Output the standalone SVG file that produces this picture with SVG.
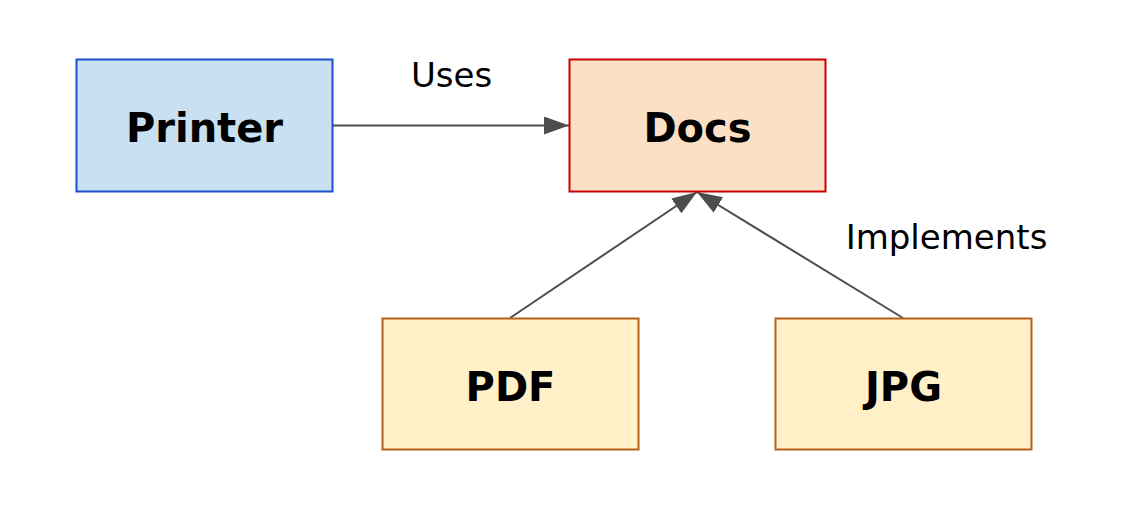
<svg xmlns="http://www.w3.org/2000/svg" width="1139" height="507" viewBox="0 0 1139 507">
<style>
.node{stroke-width:2}
.lbl{font-family:"DejaVu Sans",sans-serif;font-weight:bold;font-size:40px;fill:#000;text-anchor:middle}
.elbl{font-family:"DejaVu Sans",sans-serif;font-size:34px;fill:#000;text-anchor:middle}
.edge{stroke:#4d4d4d;stroke-width:2;fill:none}
</style>
<defs>
<marker id="arr" markerWidth="26" markerHeight="18" refX="25" refY="9" orient="auto" markerUnits="userSpaceOnUse">
<path d="M0,0 L25,9 L0,18 Z" fill="#4d4d4d"/>
</marker>
</defs>
<rect width="1139" height="507" fill="#fff"/>
<g id="connectors">
<line class="edge" x1="333" y1="125.5" x2="569" y2="125.5" marker-end="url(#arr)"/>
<line class="edge" x1="510" y1="318" x2="697" y2="192" marker-end="url(#arr)"/>
<line class="edge" x1="903" y1="318" x2="697" y2="192" marker-end="url(#arr)"/>
<text class="elbl" x="451.5" y="87">Uses</text>
<text class="elbl" x="946.5" y="249">Implements</text>
</g>
<g id="printer">
<rect class="node" x="76.5" y="59.5" width="256" height="132" fill="#c9dff2" stroke="#1a50d0"/>
<text class="lbl" x="204.5" y="142">Printer</text>
</g>
<g id="docs">
<rect class="node" x="569.5" y="59.5" width="256" height="132" fill="#fce0c6" stroke="#cc0000"/>
<text class="lbl" x="697.5" y="142">Docs</text>
</g>
<g id="pdf">
<rect class="node" x="382.5" y="318.5" width="256" height="131" fill="#fff0c8" stroke="#b4601a"/>
<text class="lbl" x="510.5" y="401">PDF</text>
</g>
<g id="jpg">
<rect class="node" x="775.5" y="318.5" width="256" height="131" fill="#fff0c8" stroke="#b4601a"/>
<text class="lbl" x="903.5" y="401">JPG</text>
</g>
</svg>
